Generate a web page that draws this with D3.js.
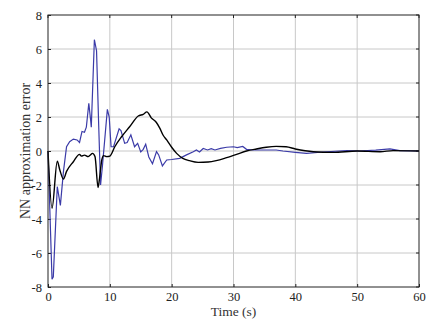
<!DOCTYPE html>
<html><head><meta charset="utf-8">
<script src="https://cdn.jsdelivr.net/npm/d3@7"></script>
<style>body{margin:0;background:#fff}</style>
</head><body>
<svg id="c" width="435" height="323"></svg>
<script>
const xTicks = [0,10,20,30,40,50,60];
const yTicks = [-8,-6,-4,-2,0,2,4,6,8];
const blueT = [0,0.65,0.86,1.5,2.0,2.5,3.0,3.5,4.1,4.7,5.1,5.5,5.9,6.2,6.6,6.9,7.0,7.5,7.85,8.2,8.5,8.8,9.6,9.9,10.2,10.6,11.5,11.8,12.4,12.8,13.4,14.0,14.5,15.0,15.4,15.8,16.3,16.9,17.55,17.9,18.5,19.2,20,21.3,22.4,23.5,24,24.5,25.1,25.8,26.4,27,27.9,28.9,30,30.6,31.5,32.1,33.2,34.8,36.9,38,40,41.8,44.5,48.3,50.4,53,55.3,56.9,60];
const blueV = [0,-7.55,-7.4,-2.1,-3.2,-1.2,0.25,0.55,0.7,0.65,0.5,1.15,1.1,1.4,2.8,1.8,1.4,6.55,5.9,1.5,-2.0,-0.9,2.45,2.0,0.25,0.25,1.3,1.2,0.45,0.5,0.95,0.25,0.45,-0.05,0.1,0.4,-0.35,-0.75,-0.04,-0.23,-0.88,-0.53,-0.5,-0.43,-0.23,-0.04,0.06,-0.06,0.15,0.06,0.14,0.06,0.15,0.22,0.25,0.2,0.27,0.1,0.06,0.06,0.06,0,-0.08,-0.14,-0.06,0.02,0,0.05,0.12,0.02,0];
const blackT = [0,0.65,1.5,1.9,2.5,3.0,4.1,5.1,5.4,5.9,6.5,6.8,7.2,7.6,8.1,8.3,8.7,9.0,9.5,10.0,10.8,11.9,13.2,14.6,15.4,16.0,16.7,17.5,18.1,18.6,19.2,20,20.8,21.8,22.9,24.3,25.9,27.2,28.9,30.5,32.1,33.7,35.3,36.9,38.5,40,42.9,46.1,50,53.7,55.8,60];
const blackV = [0,-3.37,-0.6,-1.1,-1.65,-1.2,-0.63,-0.2,-0.3,-0.24,-0.33,-0.25,-0.14,-0.33,-2.15,-1.7,-0.53,-0.27,-0.33,-0.3,0.25,0.84,1.43,2.06,2.16,2.3,1.95,1.69,1.33,0.94,0.65,0.22,-0.14,-0.43,-0.57,-0.67,-0.65,-0.57,-0.39,-0.2,0,0.12,0.22,0.27,0.25,0.12,-0.04,-0.08,0,-0.04,0.02,0];

const svg = d3.select("#c");
const L=48,R=419,T=15,B=287;
const x = d3.scaleLinear().domain([0,60]).range([L,R]);
const y = d3.scaleLinear().domain([-8,8]).range([B,T]);
const font = "'Liberation Serif','DejaVu Serif',serif";

// grid
svg.append("g").selectAll("line.v").data(xTicks.slice(1,-1)).join("line")
  .attr("x1",d=>x(d)).attr("x2",d=>x(d)).attr("y1",T).attr("y2",B)
  .attr("stroke","#c8c8c8").attr("stroke-width",1);
svg.append("g").selectAll("line.h").data(yTicks.slice(1,-1)).join("line")
  .attr("y1",d=>y(d)).attr("y2",d=>y(d)).attr("x1",L).attr("x2",R)
  .attr("stroke","#c8c8c8").attr("stroke-width",1);

// axes
const xa = svg.append("g").attr("transform",`translate(0,${B})`)
  .call(d3.axisBottom(x).tickValues(xTicks).tickSize(-3).tickPadding(5).tickFormat(d=>String(d)));
const ya = svg.append("g").attr("transform",`translate(${L},0)`)
  .call(d3.axisLeft(y).tickValues(yTicks).tickSize(-3).tickPadding(6).tickFormat(d=>String(d)));
[xa,ya].forEach(a=>{
  a.select(".domain").remove();
  a.selectAll("text").attr("font-family",font).attr("font-size",12.5).attr("fill","#222");
  a.selectAll("line").attr("stroke","#222");
});
// top/right ticks
svg.append("g").selectAll("line").data(xTicks).join("line")
  .attr("x1",d=>x(d)).attr("x2",d=>x(d)).attr("y1",T).attr("y2",T+3).attr("stroke","#222");
svg.append("g").selectAll("line").data(yTicks).join("line")
  .attr("y1",d=>y(d)).attr("y2",d=>y(d)).attr("x1",R).attr("x2",R-3).attr("stroke","#222");

// lines
const line = d3.line().x(d=>x(d[0])).y(d=>y(d[1])).curve(d3.curveLinear);
svg.append("path").datum(blueT.map((t,i)=>[t,blueV[i]]))
  .attr("d",line).attr("fill","none").attr("stroke","#3b3ba8").attr("stroke-width",1.2);
svg.append("path").datum(blackT.map((t,i)=>[t,blackV[i]]))
  .attr("d",d3.line().x(d=>x(d[0])).y(d=>y(d[1])).curve(d3.curveMonotoneX))
  .attr("fill","none").attr("stroke","#000").attr("stroke-width",1.4);

// frame
svg.append("rect").attr("x",L).attr("y",T).attr("width",R-L).attr("height",B-T)
  .attr("fill","none").attr("stroke","#222").attr("stroke-width",1);

// labels
svg.append("text").attr("x",(L+R)/2).attr("y",316).attr("text-anchor","middle")
  .attr("font-family",font).attr("font-size",13.5).attr("fill","#333").text("Time (s)");
svg.append("text").attr("transform",`translate(30,${(T+B)/2}) rotate(-90)`).attr("text-anchor","middle")
  .attr("font-family",font).attr("font-size",14).attr("fill","#333").text("NN approximation error");
</script>
</body></html>
